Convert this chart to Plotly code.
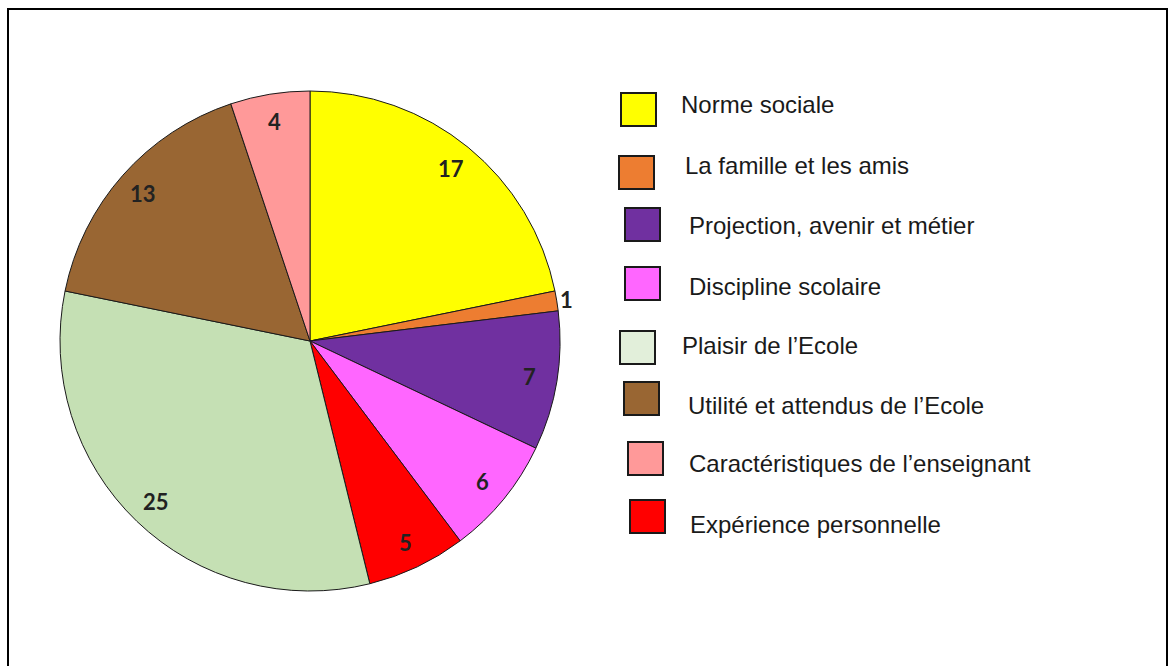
import math
import plotly.graph_objects as go

# ---- data (slice order, clockwise from 12 o'clock) ----
slice_labels = ["Norme sociale", "La famille et les amis", "Projection, avenir et métier",
                "Discipline scolaire", "Expérience personnelle", "Plaisir de l’Ecole",
                "Utilité et attendus de l’Ecole", "Caractéristiques de l’enseignant"]
slice_values = [17, 1, 7, 6, 5, 25, 13, 4]
slice_colors = ["#FFFF00", "#ED7D31", "#7030A0", "#FF66FF", "#FF0000", "#C5E0B4",
                "#996633", "#FF9999"]

# ---- legend (its own order) ----
legend_labels = ["Norme sociale", "La famille et les amis", "Projection, avenir et métier",
                 "Discipline scolaire", "Plaisir de l’Ecole", "Utilité et attendus de l’Ecole",
                 "Caractéristiques de l’enseignant", "Expérience personnelle"]
legend_colors = ["#FFFF00", "#ED7D31", "#7030A0", "#FF66FF", "#E2EFDA", "#996633",
                 "#FF9999", "#FF0000"]

# ---- layout (pixel geometry) ----
W, H = 1169, 666
CX, CY, R = 310, 341, 250
box_x = [621, 619, 625, 625, 620, 624, 628, 630]
box_y = [93, 156, 208, 267, 331, 382, 442, 500]
text_x = [679, 683, 687, 687, 680, 686, 687, 688]
text_y = [104, 165, 225, 286, 345, 405, 464, 524]
BOX_W, BOX_H = 35, 33

def px(x):
    return x / W

def py(y):
    return 1 - y / H

fig = go.Figure()
fig.add_trace(go.Pie(
    labels=slice_labels, values=slice_values, sort=False, direction="clockwise",
    rotation=0, marker=dict(colors=slice_colors, line=dict(color="#1a1a1a", width=1)),
    textinfo="none", hoverinfo="label+value", showlegend=False,
    domain=dict(x=[px(CX - R), px(CX + R)], y=[py(CY + R), py(CY - R)]),
))

annotations = []
shapes = []
total = sum(slice_values)
cum = 0
for v in slice_values:
    mid = (cum + v / 2) / total * 2 * math.pi
    cum += v
    rr = 0.89 * R if v / total > 0.03 else 1.04 * R
    x = CX + rr * math.sin(mid)
    y = CY - rr * math.cos(mid)
    annotations.append(dict(
        x=px(x), y=py(y), xref="paper", yref="paper", text="<b>%d</b>" % v, showarrow=False,
        font=dict(family="Lato", size=22, color="#222222"), xanchor="center", yanchor="middle",
    ))

for i, lab in enumerate(legend_labels):
    shapes.append(dict(type="rect", xref="paper", yref="paper",
                       x0=px(box_x[i]), x1=px(box_x[i] + BOX_W),
                       y0=py(box_y[i] + BOX_H), y1=py(box_y[i]),
                       fillcolor=legend_colors[i], line=dict(color="#1a1a1a", width=2)))
    annotations.append(dict(
        x=px(text_x[i]), y=py(text_y[i]), xref="paper", yref="paper", text=lab,
        showarrow=False, xanchor="left", yanchor="middle",
        font=dict(family="Liberation Sans, Arial", size=24, color="#1a1a1a"),
    ))

# outer frame
shapes.append(dict(type="rect", xref="paper", yref="paper",
                   x0=px(8), x1=px(1167), y0=py(680), y1=py(9),
                   line=dict(color="#000000", width=2), fillcolor="rgba(0,0,0,0)"))

fig.update_layout(
    width=W, height=H, margin=dict(l=0, r=0, t=0, b=0),
    paper_bgcolor="white", plot_bgcolor="white",
    annotations=annotations, shapes=shapes, showlegend=False,
)
fig.write_html("out.html")
